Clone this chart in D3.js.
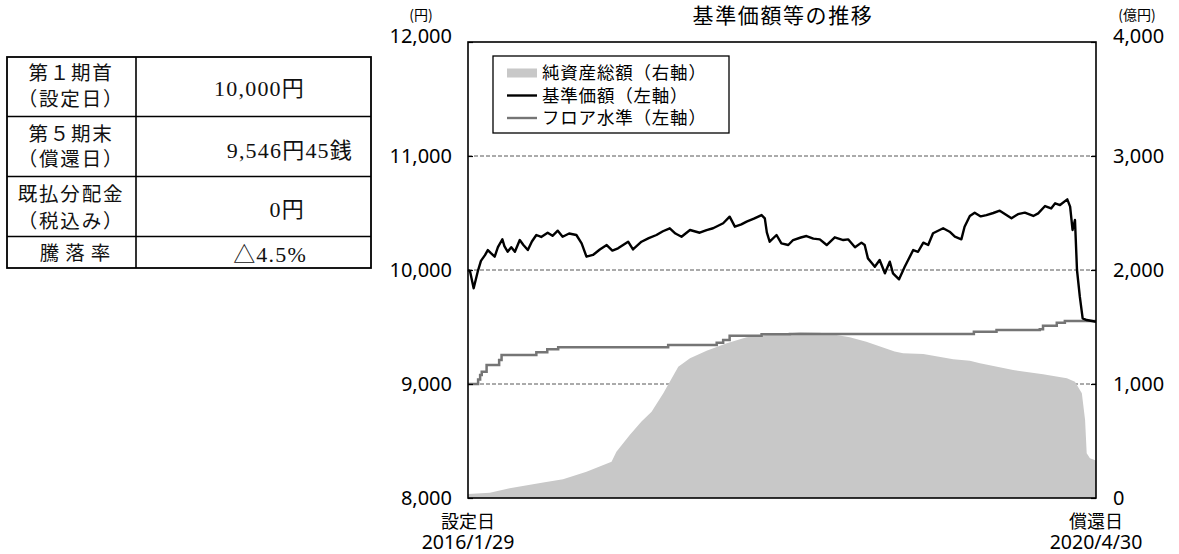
<!DOCTYPE html>
<html><head><meta charset="utf-8">
<script src="https://cdn.jsdelivr.net/npm/d3@7"></script>
<style>body{margin:0;background:#fff} svg{display:block}</style>
</head><body><svg id="c" width="1179" height="554"></svg>
<script>
// ---------- data ----------
const navDates = ["2016-01-29","2016-02-03","2016-02-12","2016-02-22","2016-03-01","2016-03-11","2016-03-18","2016-03-25","2016-04-04","2016-04-12","2016-04-23","2016-04-28","2016-05-06","2016-05-15","2016-05-24","2016-06-05","2016-06-14","2016-06-25","2016-07-05","2016-07-16","2016-07-28","2016-08-13","2016-08-25","2016-09-07","2016-09-19","2016-10-05","2016-10-23","2016-11-05","2016-11-17","2016-12-03","2016-12-20","2017-01-06","2017-01-20","2017-02-03","2017-02-28","2017-03-12","2017-04-02","2017-04-20","2017-05-09","2017-05-25","2017-06-11","2017-06-25","2017-07-10","2017-07-31","2017-08-24","2017-09-10","2017-09-26","2017-10-21","2017-11-06","2017-11-19","2017-12-05","2017-12-18","2018-01-05","2018-01-24","2018-02-01","2018-02-06","2018-02-13","2018-03-02","2018-03-14","2018-03-31","2018-04-12","2018-05-01","2018-05-15","2018-06-01","2018-06-17","2018-07-04","2018-07-24","2018-08-14","2018-08-26","2018-09-12","2018-09-28","2018-10-06","2018-10-14","2018-10-24","2018-10-31","2018-11-12","2018-11-25","2018-12-07","2018-12-15","2018-12-30","2019-01-13","2019-02-03","2019-02-15","2019-02-28","2019-03-12","2019-03-24","2019-04-18","2019-05-04","2019-05-17","2019-06-02","2019-06-10","2019-06-23","2019-07-05","2019-07-20","2019-08-03","2019-08-20","2019-09-05","2019-10-04","2019-10-20","2019-11-06","2019-11-27","2019-12-09","2019-12-26","2020-01-10","2020-01-20","2020-02-01","2020-02-19","2020-02-26","2020-03-03","2020-03-09","2020-03-14","2020-03-21","2020-03-28","2020-04-07","2020-04-30"];
const navValues = [10000,9990,9840,9985,10080,10131,10175,10150,10117,10200,10270,10210,10160,10200,10160,10263,10220,10175,10250,10307,10290,10327,10300,10345,10292,10320,10307,10234,10117,10132,10180,10219,10170,10190,10248,10181,10248,10280,10307,10340,10366,10320,10292,10351,10327,10350,10366,10410,10468,10380,10400,10424,10450,10482,10453,10330,10248,10307,10234,10219,10263,10285,10298,10275,10269,10219,10287,10263,10269,10199,10240,10219,10102,10060,10029,10088,9971,10073,9971,9918,10029,10175,10160,10240,10219,10322,10366,10336,10292,10269,10380,10474,10503,10470,10482,10500,10520,10453,10490,10503,10474,10497,10561,10540,10585,10570,10620,10556,10351,10439,10000,9766,9576,9561,9546.45];

const floorDates = ["2016-01-29","2016-02-23","2016-02-28","2016-03-03","2016-03-15","2016-04-15","2016-04-21","2016-07-16","2016-08-12","2016-09-08","2017-06-07","2017-10-05","2017-10-21","2017-11-06","2018-01-24","2018-04-04","2019-07-03","2019-08-28","2019-12-13","2019-12-21","2020-01-24","2020-02-13","2020-04-30"];
const floorValues = [9000,9040,9080,9108,9167,9210,9254,9278,9304,9322,9342,9362,9386,9424,9436,9439,9459,9474,9480,9512,9538,9553,9553];

const assetDates = ["2016-01-29","2016-03-23","2016-05-11","2016-08-02","2016-09-20","2016-11-17","2017-01-18","2017-01-30","2017-03-04","2017-04-02","2017-04-27","2017-05-26","2017-07-02","2017-07-31","2017-09-10","2017-10-30","2017-12-18","2018-02-05","2018-04-04","2018-04-29","2018-06-17","2018-07-28","2018-08-30","2018-10-10","2018-12-19","2019-01-09","2019-02-28","2019-05-13","2019-06-23","2019-07-18","2019-10-08","2019-12-21","2020-02-18","2020-03-09","2020-03-26","2020-04-03","2020-04-07","2020-04-15","2020-04-30"];
const assetValues = [35,47,85,137,164,231,319,406,553,670,757,918,1152,1225,1292,1357,1410,1430,1445,1455,1450,1430,1410,1371,1284,1269,1263,1217,1205,1181,1123,1085,1050,1020,918,684,392,348,330];

const leftTicks = [8000,9000,10000,11000,12000];
const rightTicks = [0,1000,2000,3000,4000];
const title = "基準価額等の推移";
const legendLabels = ["純資産総額（右軸）","基準価額（左軸）","フロア水準（左軸）"];
const xStartLabels = ["設定日","2016/1/29"];
const xEndLabels = ["償還日","2020/4/30"];

const tableLabels = [["第１期首","（設定日）"],["第５期末","（償還日）"],["既払分配金","（税込み）"],["騰落率"]];
const tableValues = ["10,000円","9,546円45銭","0円","△4.5%"];

// ---------- setup ----------
const parse = d3.timeParse("%Y-%m-%d");
const svg = d3.select("#c");
const L = 468, R = 1096, T = 42, B = 498;
const x = d3.scaleTime().domain([parse("2016-01-29"), parse("2020-04-30")]).range([L, R]);
const yL = d3.scaleLinear().domain([8000, 12000]).range([B, T]);
const yR = d3.scaleLinear().domain([0, 4000]).range([B, T]);

const nav = navDates.map((d,i)=>({date:parse(d), v:navValues[i]}));
const floor = floorDates.map((d,i)=>({date:parse(d), v:floorValues[i]}));
const assets = assetDates.map((d,i)=>({date:parse(d), v:assetValues[i]}));

const numFont = "'Noto Sans','Noto Sans CJK JP',sans-serif";
const jpFont = "'Noto Sans CJK JP','Noto Sans',sans-serif";

// grid
svg.append("g").selectAll("line").data(leftTicks.slice(1,-1)).join("line")
  .attr("x1", L).attr("x2", R).attr("y1", d=>yL(d)).attr("y2", d=>yL(d))
  .attr("stroke", "#444").attr("stroke-width", 0.9).attr("stroke-dasharray", "4,2");

// area
svg.append("path").datum(assets)
  .attr("d", d3.area().x(d=>x(d.date)).y0(yR(0)).y1(d=>yR(d.v)))
  .attr("fill", "#c8c8c8");

// floor
svg.append("path").datum(floor)
  .attr("d", d3.line().x(d=>x(d.date)).y(d=>yL(d.v)).curve(d3.curveStepAfter))
  .attr("fill", "none").attr("stroke", "#757575").attr("stroke-width", 2.5);

// nav
svg.append("path").datum(nav)
  .attr("d", d3.line().x(d=>x(d.date)).y(d=>yL(d.v)))
  .attr("fill", "none").attr("stroke", "#000").attr("stroke-width", 2.4).attr("stroke-linejoin","round");

// frame
svg.append("rect").attr("x", L).attr("y", T).attr("width", R-L).attr("height", B-T)
  .attr("fill", "none").attr("stroke", "#000").attr("stroke-width", 1.6);

// axes
const fmt = d3.format(",");
const ax = svg.append("g").attr("transform", `translate(${L},0)`)
  .call(d3.axisLeft(yL).tickValues(leftTicks).tickFormat(fmt).tickSizeInner(-5).tickSizeOuter(0).tickPadding(16));
const axR = svg.append("g").attr("transform", `translate(${R},0)`)
  .call(d3.axisRight(yR).tickValues(rightTicks).tickFormat(fmt).tickSizeInner(-5).tickSizeOuter(0).tickPadding(17));
[ax, axR].forEach(g=>{
  g.select(".domain").remove();
  g.selectAll(".tick line").attr("stroke", "#000").attr("stroke-width", 1.2);
  g.selectAll(".tick text").attr("font-family", numFont).attr("font-size", 20).attr("fill", "#000")
    .attr("dy", (d,i,n)=> i===n.length-1 ? "0.02em" : (i===0 ? "0.32em" : "0.34em"));
});

// axis unit labels
svg.append("text").attr("x", 421).attr("y", 19.5).attr("text-anchor","middle")
  .attr("font-family", jpFont).attr("font-size", 14).text("(円)");
svg.append("text").attr("x", 1137).attr("y", 19.5).attr("text-anchor","middle")
  .attr("font-family", jpFont).attr("font-size", 14).text("(億円)");

// title
svg.append("text").attr("x", 783).attr("y", 23).attr("text-anchor","middle")
  .attr("font-family", jpFont).attr("font-size", 21).attr("letter-spacing", 1.6).text(title);

// x labels
[[L, xStartLabels],[R, xEndLabels]].forEach(([xx, labs])=>{
  svg.append("text").attr("x", xx).attr("y", 527.5).attr("text-anchor","middle")
    .attr("font-family", jpFont).attr("font-size", 18).text(labs[0]);
  svg.append("text").attr("x", xx).attr("y", 548.5).attr("text-anchor","middle")
    .attr("font-family", numFont).attr("font-size", 19.5).text(labs[1]);
});

// legend
const lg = svg.append("g");
lg.append("rect").attr("x", 493).attr("y", 56).attr("width", 236).attr("height", 77)
  .attr("fill", "#fff").attr("stroke", "#000").attr("stroke-width", 1.3);
const rowsY = [73, 95.5, 118];
lg.append("rect").attr("x", 507).attr("y", rowsY[0]-4.5).attr("width", 30).attr("height", 9).attr("fill", "#c8c8c8");
lg.append("line").attr("x1", 507).attr("x2", 537).attr("y1", rowsY[1]).attr("y2", rowsY[1]).attr("stroke", "#000").attr("stroke-width", 2.4);
lg.append("line").attr("x1", 507).attr("x2", 537).attr("y1", rowsY[2]).attr("y2", rowsY[2]).attr("stroke", "#757575").attr("stroke-width", 2.4);
lg.selectAll("text.lt").data(legendLabels).join("text").attr("class","lt")
  .attr("x", 542).attr("y", (d,i)=>rowsY[i]).attr("dy", "0.36em")
  .attr("font-family", jpFont).attr("font-size", 17.5).attr("letter-spacing", 0.8).text(d=>d);

// table
const tb = svg.append("g");
const tL = 7, tM = 136, tR = 371;
const rowEdges = [57, 116.5, 176.5, 236.5, 268];
tb.append("rect").attr("x", tL).attr("y", rowEdges[0]).attr("width", tR-tL).attr("height", rowEdges[4]-rowEdges[0])
  .attr("fill", "none").attr("stroke", "#000").attr("stroke-width", 1.8);
tb.selectAll("line.h").data(rowEdges.slice(1,-1)).join("line").attr("class","h")
  .attr("x1", tL).attr("x2", tR).attr("y1", d=>d).attr("y2", d=>d).attr("stroke", "#000").attr("stroke-width", 1.6);
tb.append("line").attr("x1", tM).attr("x2", tM).attr("y1", rowEdges[0]).attr("y2", rowEdges[4]).attr("stroke", "#000").attr("stroke-width", 1.6);
const labelYs = [[72.5, 99],[134, 159],[194, 221],[253]];
tableLabels.forEach((labs, r)=>{
  labs.forEach((t, k)=>{
    tb.append("text").attr("x", r===3 ? 78 : 71).attr("y", labelYs[r][k]).attr("dy","0.36em")
      .attr("text-anchor","middle").attr("font-family", jpFont).attr("font-size", 19.5)
      .attr("letter-spacing", r===3 ? 6 : 1.8).attr("fill","#111").text(t);
  });
});
const valX = [305, 353, 305, 307], valY = [88, 150.5, 209, 254];
tableValues.forEach((t, r)=>{
  tb.append("text").attr("x", valX[r]).attr("y", valY[r]).attr("dy","0.36em").attr("text-anchor","end")
    .attr("font-family", "'Liberation Serif','Noto Sans CJK JP',serif").attr("font-size", 22)
    .attr("letter-spacing", 1.2).attr("fill","#111").text(t);
});
</script></body></html>
